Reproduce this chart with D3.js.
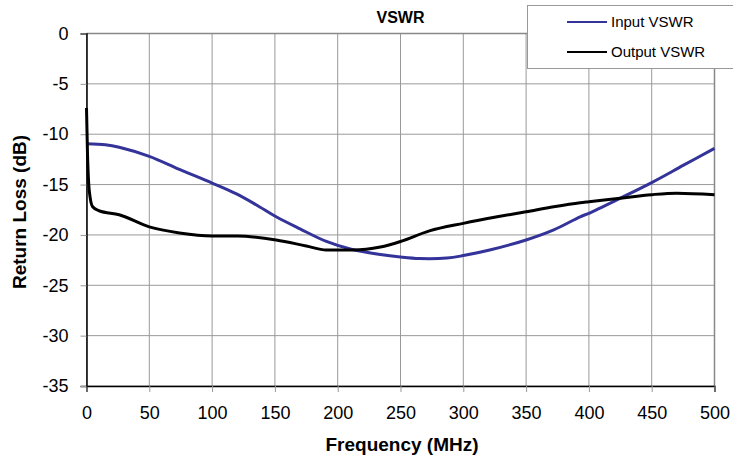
<!DOCTYPE html>
<html>
<head>
<meta charset="utf-8">
<script src="https://cdn.jsdelivr.net/npm/d3@7"></script>
<style>
  body { margin: 0; background: #fff; }
  text { font-family: "Liberation Sans", Arial, sans-serif; }
</style>
</head>
<body>
<div id="chart"></div>
<script>
var width = 733
var height = 457

// input VSWR (blue)
var inFreq = [0, 15, 26, 50, 74, 100, 119, 135, 151, 170, 191, 210, 234, 250, 265, 287, 300, 321, 350, 372, 393, 400, 425, 450, 475, 500]
var inLoss = [-10.95, -11.05, -11.3, -12.2, -13.5, -14.85, -15.9, -17.0, -18.2, -19.4, -20.65, -21.4, -21.95, -22.2, -22.35, -22.3, -22.05, -21.5, -20.5, -19.5, -18.2, -17.85, -16.35, -14.8, -13.1, -11.4]

// output VSWR (black)
var outFreq = [0, 0.8, 1.8, 2.8, 4.9, 10, 26, 50, 74, 100, 120, 151, 175, 191, 212, 234, 250, 273, 300, 327, 350, 372, 393, 400, 425, 450, 470, 500]
var outLoss = [-7.4, -12, -15, -16.2, -17.2, -17.6, -18.0, -19.2, -19.8, -20.1, -20.1, -20.5, -21.1, -21.5, -21.5, -21.2, -20.65, -19.6, -18.85, -18.2, -17.7, -17.2, -16.8, -16.7, -16.35, -16.0, -15.85, -16.0]

var xTicks = [0, 50, 100, 150, 200, 250, 300, 350, 400, 450, 500]
var yTicks = [0, -5, -10, -15, -20, -25, -30, -35]

var seriesNames = ['Input VSWR', 'Output VSWR']
var seriesColors = ['#333399', '#000000']

var plotL = 86.5, plotR = 714.5, plotT = 33.5, plotB = 386

var x = d3.scaleLinear().domain([0, 500]).range([plotL, plotR])
var y = d3.scaleLinear().domain([-35, 0]).range([plotB, plotT])

var svg = d3.select('#chart').append('svg')
    .attr('width', width)
    .attr('height', height)

// grid
svg.append('g')
    .selectAll('line')
    .data(xTicks)
    .enter().append('line')
    .attr('x1', d => x(d)).attr('x2', d => x(d))
    .attr('y1', plotT).attr('y2', plotB)
    .style('stroke', '#999').style('stroke-width', 1)

svg.append('g')
    .selectAll('line')
    .data(yTicks)
    .enter().append('line')
    .attr('x1', plotL).attr('x2', plotR)
    .attr('y1', d => y(d)).attr('y2', d => y(d))
    .style('stroke', '#999').style('stroke-width', 1)

// frame top / right
svg.append('line').attr('x1', plotL).attr('x2', plotR).attr('y1', plotT).attr('y2', plotT)
    .style('stroke', '#888').style('stroke-width', 1.5)
svg.append('line').attr('x1', plotR).attr('x2', plotR).attr('y1', plotT).attr('y2', plotB)
    .style('stroke', '#888').style('stroke-width', 1.5)

// axes (plain hyphen for negatives, like the original)
var fmt = d => String(d)

var xAxis = svg.append('g')
    .attr('transform', 'translate(0,' + plotB + ')')
    .call(d3.axisBottom(x).tickValues(xTicks).tickFormat(fmt).tickSize(6).tickPadding(14))
xAxis.select('.domain').style('stroke', '#000').style('stroke-width', 1.5)
xAxis.selectAll('.tick line').style('stroke', '#999')
xAxis.selectAll('text').style('font-size', '18px').style('fill', '#000')
    .style('font-family', '"Liberation Sans", Arial, sans-serif')

var yAxis = svg.append('g')
    .attr('transform', 'translate(' + plotL + ',0)')
    .call(d3.axisLeft(y).tickValues(yTicks).tickFormat(fmt).tickSize(6).tickPadding(12))
yAxis.select('.domain').style('stroke', '#000').style('stroke-width', 1.5)
yAxis.selectAll('.tick line').style('stroke', '#999')
yAxis.selectAll('text').style('font-size', '18px').style('fill', '#000')
    .style('font-family', '"Liberation Sans", Arial, sans-serif')

// lines
var curves = [d3.curveCatmullRom.alpha(0.5), d3.curveMonotoneX]

var series = [d3.zip(inFreq, inLoss), d3.zip(outFreq, outLoss)]

svg.append('g')
    .selectAll('path')
    .data(series)
    .enter().append('path')
    .attr('d', (d, i) => d3.line()
        .x(p => x(p[0]))
        .y(p => y(p[1]))
        .curve(curves[i])(d))
    .style('fill', 'none')
    .style('stroke', (d, i) => seriesColors[i])
    .style('stroke-width', 3)
    .style('stroke-linejoin', 'round')

// titles
svg.append('text')
    .attr('x', (plotL + plotR) / 2).attr('y', 23)
    .attr('text-anchor', 'middle')
    .style('font-size', '16px').style('font-weight', 'bold')
    .text('VSWR')

svg.append('text')
    .attr('x', 402).attr('y', 451)
    .attr('text-anchor', 'middle')
    .style('font-size', '19px').style('font-weight', 'bold')
    .text('Frequency (MHz)')

svg.append('text')
    .attr('transform', 'translate(26,212) rotate(-90)')
    .attr('text-anchor', 'middle')
    .style('font-size', '19px').style('font-weight', 'bold')
    .text('Return Loss (dB)')

// legend
var legend = svg.append('g')
legend.append('rect')
    .attr('x', 527.5).attr('y', 5.5)
    .attr('width', 215).attr('height', 63)
    .style('fill', '#fff').style('stroke', '#999').style('stroke-width', 1)

var item = legend.selectAll('g')
    .data(seriesNames)
    .enter().append('g')
    .attr('transform', (d, i) => 'translate(0,' + (22 + i * 30) + ')')

item.append('line')
    .attr('x1', 567).attr('x2', 607)
    .style('stroke', (d, i) => seriesColors[i])
    .style('stroke-width', 2)

item.append('text')
    .attr('x', 611).attr('dy', '0.35em')
    .style('font-size', '15px')
    .text(d => d)
</script>
</body>
</html>
